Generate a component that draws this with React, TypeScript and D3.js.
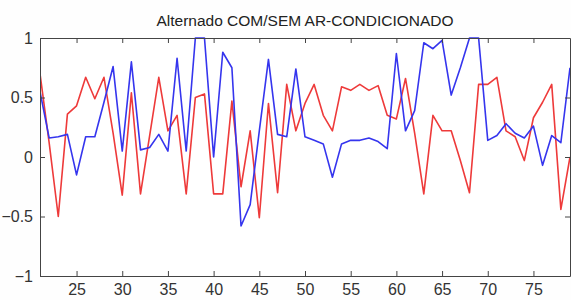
import { useEffect, useRef } from "react";
import * as d3 from "d3";

const title = "Alternado COM/SEM AR-CONDICIONADO";

const xs = [
  21, 22, 23, 24, 25, 26, 27, 28, 29, 30, 31, 32, 33, 34, 35, 36, 37, 38, 39, 40,
  41, 42, 43, 44, 45, 46, 47, 48, 49, 50, 51, 52, 53, 54, 55, 56, 57, 58, 59, 60,
  61, 62, 63, 64, 65, 66, 67, 68, 69, 70, 71, 72, 73, 74, 75, 76, 77, 78, 79,
];

const blueSeries = [
  0.55, 0.16, 0.17, 0.19, -0.15, 0.17, 0.17, 0.46, 0.76, 0.05, 0.8, 0.06, 0.08, 0.19, 0.05, 0.83, 0.05, 1.0, 1.0, 0.0,
  0.88, 0.75, -0.58, -0.4, 0.22, 0.82, 0.19, 0.17, 0.74, 0.17, 0.14, 0.11, -0.17, 0.11, 0.14, 0.14, 0.16, 0.13, 0.07, 0.87,
  0.22, 0.39, 0.96, 0.91, 0.98, 0.52, 0.75, 1.0, 1.0, 0.14, 0.18, 0.28, 0.2, 0.16, 0.26, -0.07, 0.18, 0.12, 0.75,
];

const redSeries = [
  0.7, 0.12, -0.5, 0.36, 0.43, 0.67, 0.49, 0.67, 0.2, -0.32, 0.54, -0.31, 0.18, 0.67, 0.22, 0.35, -0.31, 0.5, 0.53, -0.31,
  -0.31, 0.47, -0.25, 0.22, -0.51, 0.45, -0.3, 0.61, 0.22, 0.45, 0.61, 0.35, 0.22, 0.59, 0.56, 0.61, 0.56, 0.6, 0.35, 0.32,
  0.66, 0.2, -0.31, 0.35, 0.22, 0.22, -0.03, -0.3, 0.61, 0.61, 0.67, 0.22, 0.17, -0.03, 0.33, 0.46, 0.61, -0.44, 0.0,
];

const xTicks = [25, 30, 35, 40, 45, 50, 55, 60, 65, 70, 75];
const yTicks = [-1, -0.5, 0, 0.5, 1];

export default function App() {
  const svgRef = useRef(null);

  useEffect(() => {
    const w = 571;
    const h = 300;
    const m = { left: 40, right: 1, top: 38, bottom: 24 };
    const svg = d3.select(svgRef.current);
    svg.selectAll("*").remove();

    const x = d3.scaleLinear().domain([21, 79]).range([m.left, w - m.right]);
    const y = d3.scaleLinear().domain([-1, 1]).range([h - m.bottom, m.top]);

    svg.append("rect").attr("width", w).attr("height", h).attr("fill", "#fefefe");
    svg
      .append("rect")
      .attr("x", m.left)
      .attr("y", m.top)
      .attr("width", w - m.right - m.left)
      .attr("height", h - m.bottom - m.top)
      .attr("fill", "#ffffff");

    svg
      .append("defs")
      .append("clipPath")
      .attr("id", "plotclip")
      .append("rect")
      .attr("x", m.left)
      .attr("y", m.top - 1)
      .attr("width", w - m.right - m.left)
      .attr("height", h - m.bottom - m.top + 2);

    const line = d3
      .line()
      .x((d, i) => x(xs[i]))
      .y((d) => y(d));

    const lines = svg.append("g").attr("clip-path", "url(#plotclip)");
    lines
      .append("path")
      .attr("d", line(redSeries))
      .attr("fill", "none")
      .attr("stroke", "#ee3a3a")
      .attr("stroke-width", 1.6)
      .attr("stroke-linejoin", "round");
    lines
      .append("path")
      .attr("d", line(blueSeries))
      .attr("fill", "none")
      .attr("stroke", "#3535ee")
      .attr("stroke-width", 1.6)
      .attr("stroke-linejoin", "round");

    // matlab style box, ticks point inward
    const font = "'Liberation Sans', Arial, sans-serif";
    const styleAxis = (g) => {
      g.select(".domain").attr("stroke", "#444");
      g.selectAll(".tick line").attr("stroke", "#444");
      g.selectAll("text").attr("fill", "#333").style("font-family", font).style("font-size", "16px");
    };

    svg
      .append("g")
      .attr("transform", `translate(0,${h - m.bottom})`)
      .call(d3.axisBottom(x).tickValues(xTicks).tickSizeInner(-5).tickSizeOuter(0).tickPadding(8))
      .call(styleAxis);
    svg
      .append("g")
      .attr("transform", `translate(0,${m.top})`)
      .call(d3.axisTop(x).tickValues(xTicks).tickSizeInner(-5).tickSizeOuter(0).tickFormat(() => ""))
      .call(styleAxis);
    svg
      .append("g")
      .attr("transform", `translate(${m.left},0)`)
      .call(d3.axisLeft(y).tickValues(yTicks).tickSizeInner(-5).tickSizeOuter(0).tickPadding(7).tickFormat(d3.format("")))
      .call(styleAxis);
    svg
      .append("g")
      .attr("transform", `translate(${w - m.right},0)`)
      .call(d3.axisRight(y).tickValues(yTicks).tickSizeInner(-5).tickSizeOuter(0).tickFormat(() => ""))
      .call(styleAxis);

    svg
      .append("text")
      .attr("x", (m.left + w - m.right) / 2)
      .attr("y", 26)
      .attr("text-anchor", "middle")
      .attr("fill", "#222")
      .style("font-family", font)
      .style("font-size", "15.5px")
      .text(title);
  }, []);

  return (
    <svg
      ref={svgRef}
      width={571}
      height={300}
      style={{ position: "absolute", left: 0, top: 0, display: "block" }}
    ></svg>
  );
}
